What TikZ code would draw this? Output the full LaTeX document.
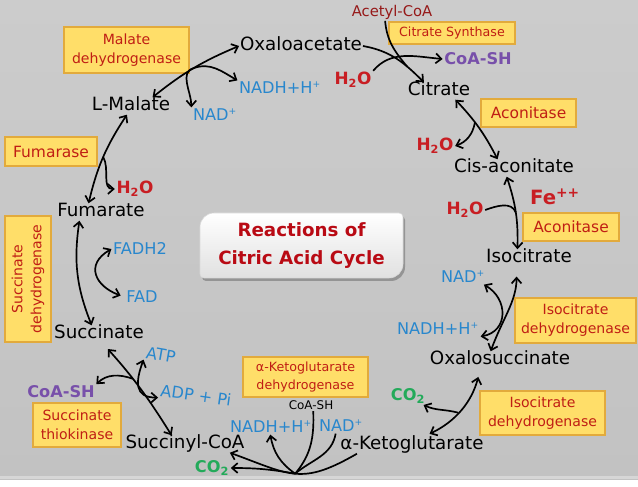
\documentclass[tikz,border=0pt]{standalone}
\usepackage{fontspec}
\setmainfont{DejaVu Sans}
\usetikzlibrary{arrows.meta}
\definecolor{bgtop}{RGB}{204,204,204}
\definecolor{bgbot}{RGB}{194,194,194}
\definecolor{bgline}{RGB}{214,214,214}
\definecolor{enzfill}{RGB}{255,222,105}
\definecolor{enzedge}{RGB}{226,170,60}
\definecolor{enztext}{RGB}{192,30,20}
\definecolor{nadblue}{RGB}{40,135,205}
\definecolor{h2ored}{RGB}{200,30,35}
\definecolor{coapurple}{RGB}{120,80,170}
\definecolor{co2green}{RGB}{35,170,90}
\definecolor{acored}{RGB}{150,25,25}
\definecolor{titlered}{RGB}{185,10,20}
\newcommand{\chg}[1]{\textsuperscript{\fontsize{6.5}{7}\selectfont #1}}
\tikzset{>={Straight Barb[length=4pt,width=7pt]}}
\tikzset{
	% compound names
	cmp/.style={font=\fontsize{13}{14}\selectfont,text height=9pt,text depth=2pt,inner sep=0.5pt},
	% cofactors and small molecules
	cof/.style={text=nadblue,font=\fontsize{11.5}{13}\selectfont,inner sep=1pt},
	wat/.style={text=h2ored,font=\bfseries\fontsize{12}{13}\selectfont,inner sep=1pt},
	coa/.style={text=coapurple,font=\bfseries\fontsize{11.5}{13}\selectfont,inner sep=1pt},
	gas/.style={text=co2green,font=\bfseries\fontsize{11.5}{13}\selectfont,inner sep=1pt},
	% enzyme boxes
	enz/.style={draw=enzedge,fill=enzfill,line width=0.8pt,text=enztext,align=center,font=\fontsize{10}{13.5}\selectfont,inner sep=0pt},
	% reaction arrows
	rxn/.style={line width=1.2pt,black},
}

\begin{document}
\begin{tikzpicture}[x=0.025cm,y=0.025cm]
% background
\shade[top color=bgtop,bottom color=bgbot] (0,0) rectangle (638,479);
\fill[bgline] (0,0) rectangle (638,3);
% title box
\fill[black,opacity=0.25,shift={(2,-3)}] (200,205) -- (200,252) arc[start angle=180,end angle=90,radius=14] -- (399,266) arc[start angle=90,end angle=0,radius=4] -- (403,215) arc[start angle=0,end angle=-90,radius=14] -- (204,201) arc[start angle=270,end angle=180,radius=4] -- cycle;
\shadedraw[top color=white,bottom color=black!12,draw=black!15] (200,205) -- (200,252) arc[start angle=180,end angle=90,radius=14] -- (399,266) arc[start angle=90,end angle=0,radius=4] -- (403,215) arc[start angle=0,end angle=-90,radius=14] -- (204,201) arc[start angle=270,end angle=180,radius=4] -- cycle;
\node[align=center,text=titlered,font=\bfseries\fontsize{13}{20}\selectfont] (title) at (301.5,233.5) {Reactions of\\Citric Acid Cycle};

% enzymes
\node[enz,minimum width=3.125cm,minimum height=1.15cm] (mdh) at (126.5,429) {Malate\\dehydrogenase};
\node[enz,minimum width=3.15cm,minimum height=0.55cm,font=\fontsize{9}{11}\selectfont] (cs) at (452,446) {Citrate Synthase};
\node[enz,minimum width=2.3cm,minimum height=0.725cm,font=\fontsize{11}{13}\selectfont] (fuma) at (51,327.5) {Fumarase};
\node[enz,minimum width=2.375cm,minimum height=0.7cm,font=\fontsize{11}{13}\selectfont] (aco1) at (528.5,366) {Aconitase};
\node[enz,minimum width=2.4cm,minimum height=0.7cm,font=\fontsize{11}{13}\selectfont] (aco2) at (571,252) {Aconitase};
\node[enz,minimum width=3.025cm,minimum height=1.125cm] (idh1) at (575.5,158.5) {Isocitrate\\dehydrogenase};
\node[enz,minimum width=3.125cm,minimum height=1.1cm] (idh2) at (542.5,66) {Isocitrate\\dehydrogenase};
\node[enz,minimum width=3.125cm,minimum height=1cm,font=\fontsize{9}{12.5}\selectfont] (akgdh) at (305.5,102) {α-Ketoglutarate\\dehydrogenase};
\node[enz,minimum width=2.2cm,minimum height=1.1cm] (sth) at (77,54) {Succinate\\thiokinase};
\node[enz,rotate=90,minimum width=3.15cm,minimum height=1.15cm] (sdh) at (28,200) {Succinate\\dehydrogenase};

% compounds of the cycle
\node[cmp] (oxa) at (301,433) {Oxaloacetate};
\node[cmp] (cit) at (439,388) {Citrate};
\node[cmp] (cis) at (514,311) {Cis-aconitate};
\node[cmp] (iso) at (529,221) {Isocitrate};
\node[cmp] (oxs) at (500,119) {Oxalosuccinate};
\node[cmp] (akg) at (412,34) {α-Ketoglutarate};
\node[cmp] (scoa) at (185,35) {Succinyl-CoA};
\node[cmp] (suc) at (99,145) {Succinate};
\node[cmp] (fum) at (101,267) {Fumarate};
\node[cmp] (lmal) at (131,373) {L-Malate};

% side substances
\node[text=acored,font=\fontsize{10.5}{12}\selectfont,inner sep=1pt] (acoa) at (392,467) {Acetyl-CoA};
\node[coa] (coashA) at (478,420) {CoA-SH};
\node[wat] (h2oA) at (353,399) {H\textsubscript{2}O};
\node[cof] (nadhA) at (280,391) {NADH+H\chg{+}};
\node[cof] (nadA) at (215,364) {NAD\chg{+}};
\node[wat] (h2oB) at (435,333) {H\textsubscript{2}O};
\node[wat,font=\bfseries\fontsize{14}{15}\selectfont] (fe) at (555,282) {Fe\textsuperscript{++}};
\node[wat] (h2oC) at (465,269) {H\textsubscript{2}O};
\node[cof] (nadB) at (463,202) {NAD\chg{+}};
\node[cof] (nadhB) at (438,150) {NADH+H\chg{+}};
\node[gas] (co2A) at (408,83) {CO\textsubscript{2}};
\node[cof] (nadC) at (341,53) {NAD\chg{+}};
\node[font=\fontsize{8.5}{10}\selectfont,inner sep=1pt] (coashC) at (311,74) {CoA-SH};
\node[cof] (nadhC) at (271,52) {NADH+H\chg{+}};
\node[gas] (co2B) at (212,11) {CO\textsubscript{2}};
\node[coa] (coashD) at (61,87) {CoA-SH};
\node[cof,rotate=-8] (adp) at (196,84) {ADP + Pi};
\node[cof,rotate=-10] (atp) at (161,124) {ATP};
\node[cof] (fadh) at (140,230) {FADH2};
\node[cof] (fad) at (142,182) {FAD};
\node[wat] (h2oD) at (135,290) {H\textsubscript{2}O};

% malate -> oxaloacetate
\draw[rxn,<->] (lmal.22) to[bend left=8] coordinate[pos=0.5] (j1) (oxa.west);
\draw[rxn,->] (j1) to[out=20,in=150] (nadhA.north west);
\draw[rxn,->] (j1) to[out=195,in=90] (nadA.north west);
% oxaloacetate -> citrate
\draw[rxn,->] (oxa.east) to[out=-10,in=135] coordinate[pos=0.7] (j2) (cit.150);
\draw[rxn] (acoa.-128) to[out=-85,in=130] (j2);
\draw[rxn,->] (h2oA.north east) to[out=50,in=175] (coashA.west);
% citrate <-> cis-aconitate
\draw[rxn,<->] (cit.-28) to[bend left=8] coordinate[pos=0.4] (j3) (cis.152);
\draw[rxn,->] (j3) to[out=-100,in=20] (h2oB.east);
% cis-aconitate <-> isocitrate
\draw[rxn,<->] (cis.-130) to[bend left=10] coordinate[pos=0.5] (j4) (iso.143);
\draw[rxn] (h2oC.east) to[out=20,in=110] (j4);
% isocitrate <-> oxalosuccinate
\draw[rxn,<->,shorten <=7pt] (iso.-145) to[out=-90,in=70] (oxs.137);
\draw[rxn,<->] (nadB.-20) to[out=-30,in=10,looseness=1.4] (nadhB.-10);
% oxalosuccinate <-> alpha-ketoglutarate
\draw[rxn,<->,shorten <=6pt,shorten >=4pt] (oxs.-156) to[bend left=25] coordinate[pos=0.55] (j6) (akg.35);
\draw[rxn,->] (j6) to[out=165,in=-25] (co2A.-30);
% alpha-ketoglutarate -> succinyl-CoA
\draw[rxn,->] (akg.-171) to[out=-150,in=-20,looseness=1.3] coordinate[pos=0.5] (j7) (scoa.-11);
\draw[rxn,->] (j7) to[out=170,in=0] (co2B.east);
\draw[rxn,->] (j7) to[out=145,in=-80] (nadhC.-95);
\draw[rxn] (nadC.-125) to[out=-100,in=40] (j7);
\draw[rxn] (coashC.-70) to[out=-88,in=50] (j7);
% succinyl-CoA <-> succinate
\draw[rxn,<->,shorten >=6pt] (scoa.147) to[bend right=5] coordinate[pos=0.6] (jA) (suc.-70);
\draw[rxn,->] (jA) to[out=160,in=45] (coashD.north east);
\draw[rxn,<->] (atp.south west) to[out=-110,in=180,looseness=1.5] (adp.south west);
% succinate <-> fumarate
\draw[rxn,<->] (fum.-158) to[bend right=15] (suc.130);
\draw[rxn,<->,shorten >=3pt] (fadh.west) to[out=-150,in=160,looseness=1.6] (fad.west);
% fumarate <-> malate
\draw[rxn,<->] (fum.145) to[bend left=10] coordinate[pos=0.5] (j10) (lmal.-115);
\draw[rxn,->] (j10) to[out=-60,in=180] (h2oD.west);
\end{tikzpicture}
\end{document}
